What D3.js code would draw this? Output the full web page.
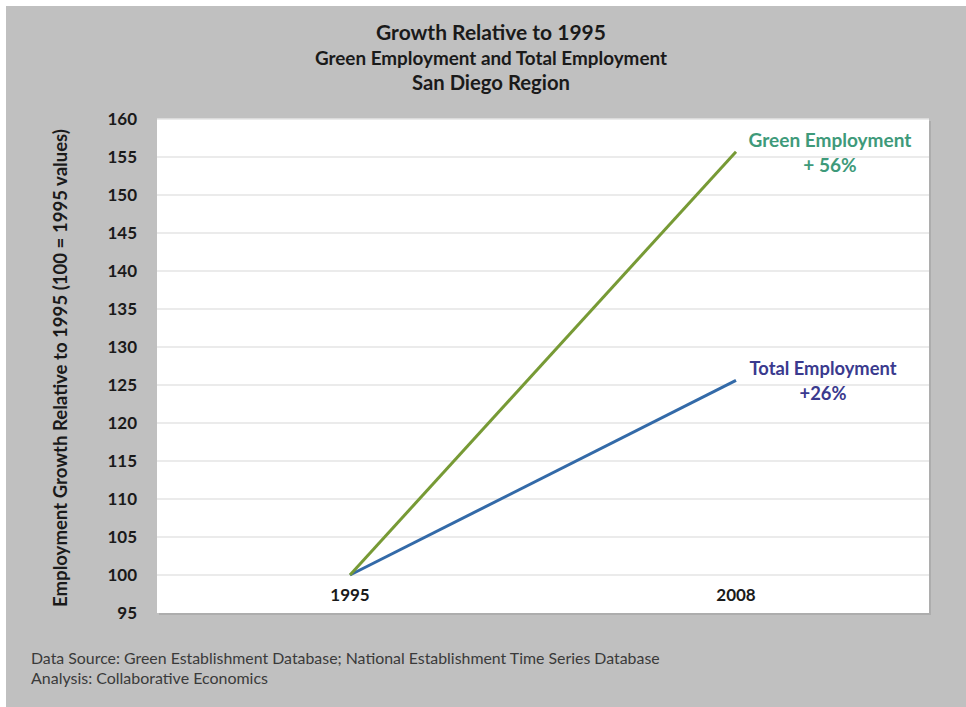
<!DOCTYPE html>
<html><head><meta charset="utf-8">
<script src="https://cdn.jsdelivr.net/npm/d3@7"></script>
<style>
html,body{margin:0;padding:0;background:#fff;}
svg{display:block;font-family:Lato,"Open Sans",sans-serif;}
</style></head>
<body>
<script>
const categories = ["1995", "2008"];
const greenValues = [100, 155.7];
const totalValues = [100, 125.6];
const yTicks = [95, 100, 105, 110, 115, 120, 125, 130, 135, 140, 145, 150, 155, 160];
const seriesNames = ["Green Employment", "Total Employment"];
const seriesNotes = ["+ 56%", "+26%"];
const titleLines = ["Growth Relative to 1995", "Green Employment and Total Employment", "San Diego Region"];
const footerLines = ["Data Source: Green Establishment Database; National Establishment Time Series Database", "Analysis: Collaborative Economics"];
const yAxisTitle = "Employment  Growth Relative to 1995 (100 = 1995 values)";

const W = 966, H = 707;
const svg = d3.select("body").append("svg").attr("width", W).attr("height", H);
svg.append("rect").attr("x", 6).attr("y", 6).attr("width", W - 6).attr("height", H - 6).attr("fill", "#c0c0c0");

const plot = {left: 157, top: 119, right: 929, bottom: 613};
const x = d3.scaleBand().domain(categories).range([plot.left, plot.right]);
const y = d3.scaleLinear().domain([95, 160]).range([plot.bottom, plot.top]);

function fit(sel, width) {
  const w = sel.node().getComputedTextLength();
  const fs = parseFloat(sel.attr("font-size"));
  sel.attr("font-size", (fs * width / w).toFixed(2));
  return sel;
}

// shadow + plot area
svg.append("rect").attr("x", plot.left + 2).attr("y", plot.top + 2)
  .attr("width", plot.right - plot.left).attr("height", plot.bottom - plot.top).attr("fill", "#adadad");
svg.append("rect").attr("x", plot.left).attr("y", plot.top)
  .attr("width", plot.right - plot.left).attr("height", plot.bottom - plot.top).attr("fill", "#fff");

// gridlines
svg.append("g").selectAll("line").data(yTicks.filter(d => d > 95)).join("line")
  .attr("x1", plot.left).attr("x2", plot.right)
  .attr("y1", d => y(d)).attr("y2", d => y(d))
  .attr("stroke", "#e4e4e4").attr("stroke-width", 1.5);

// y axis
const yAxis = d3.axisLeft(y).tickValues(yTicks).tickSize(0).tickPadding(20);
const gy = svg.append("g").attr("transform", `translate(${plot.left},0)`).call(yAxis);
gy.select(".domain").remove();
gy.selectAll("text").attr("font-size", 17).attr("font-weight", "bold").attr("fill", "#1a1a1a")
  .attr("font-family", "Lato, sans-serif");

// x axis labels
const xAxis = d3.axisBottom(x).tickSize(0).tickPadding(0);
const gx = svg.append("g").attr("transform", `translate(0,${plot.bottom - 18})`).call(xAxis);
gx.select(".domain").remove();
gx.selectAll("text").attr("font-size", 17).attr("font-weight", "bold").attr("fill", "#1a1a1a")
  .attr("font-family", "Lato, sans-serif").attr("dy", "0.35em");

// lines
const line = d3.line().x((d, i) => x(categories[i]) + x.bandwidth() / 2).y(d => y(d));
svg.append("path").datum(totalValues).attr("d", line).attr("fill", "none")
  .attr("stroke", "#336aa8").attr("stroke-width", 3);
svg.append("path").datum(greenValues).attr("d", line).attr("fill", "none")
  .attr("stroke", "#779a35").attr("stroke-width", 3);

// series labels
const labelColors = ["#3e9a7a", "#3a3a8e"];
const labelPos = [{cx: 830, y1: 147, y2: 172}, {cx: 823, y1: 375, y2: 400}];
const labelWidths = [163, 147];
seriesNames.forEach((n, i) => {
  const t = svg.append("text").attr("x", labelPos[i].cx).attr("y", labelPos[i].y1)
    .attr("text-anchor", "middle").attr("font-size", 16).attr("font-weight", "bold")
    .attr("fill", labelColors[i]).text(n);
  fit(t, labelWidths[i]);
  svg.append("text").attr("x", labelPos[i].cx).attr("y", labelPos[i].y2)
    .attr("text-anchor", "middle").attr("font-size", t.attr("font-size")).attr("font-weight", "bold")
    .attr("fill", labelColors[i]).text(seriesNotes[i]);
});

// titles
const tY = [40, 65, 90];
const tW = [230, 352, 158];
const tFS = [19, 16, 16];
titleLines.forEach((s, i) => {
  const t = svg.append("text").attr("x", 491).attr("y", tY[i]).attr("text-anchor", "middle")
    .attr("font-size", tFS[i]).attr("font-weight", "bold").attr("fill", "#1a1a1a").text(s);
  fit(t, tW[i]);
});

// y axis title
const yt = svg.append("text").attr("transform", `translate(67,${368}) rotate(-90)`)
  .attr("text-anchor", "middle").attr("font-size", 15).attr("font-weight", "bold")
  .attr("fill", "#1a1a1a").text(yAxisTitle);
fit(yt, 478);

// footer
const fY = [664, 684];
const fW = [629, 237];
footerLines.forEach((s, i) => {
  const t = svg.append("text").attr("x", 31).attr("y", fY[i]).attr("font-size", 14)
    .attr("fill", "#3a3a3a").text(s);
  fit(t, fW[i]);
});
</script>
</body></html>
